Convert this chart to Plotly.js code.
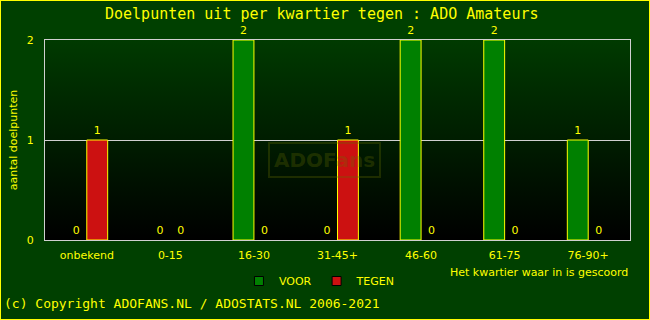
<!DOCTYPE html>
<html><head><meta charset="utf-8">
<script src="https://cdn.plot.ly/plotly-3.0.1.min.js"></script>
<style>
html,body{margin:0;padding:0;background:#004000;}
#wrap{position:relative;width:650px;height:320px;background:#004000;overflow:hidden;}
#grad{position:absolute;left:45px;top:40px;width:585px;height:200px;background:linear-gradient(to bottom,#003a00,#000000);}
#chart{position:absolute;left:0;top:0;width:650px;height:320px;}
#frame{position:absolute;left:0;top:0;width:650px;height:320px;box-sizing:border-box;border:1px solid #ffff00;pointer-events:none;}
</style></head>
<body>
<div id="wrap"><div id="grad"></div><div id="chart"></div><div id="frame"></div></div>
<script>
const categories = ["onbekend","0-15","16-30","31-45+","46-60","61-75","76-90+"];
const voor = [0,0,2,0,2,2,1];
const tegen = [1,0,0,1,0,0,0];
const yTicks = [0,1,2];
const seriesNames = ["VOOR","TEGEN"];
const yellow = "#ffff00";
const mkBar = (vals, name, color) => ({
  type:"bar", x:categories, y:vals, name:name, showlegend:false,
  marker:{color:color, line:{color:yellow, width:vals.map(v => v > 0 ? 1 : 0)}},
  text:vals.map(String), textposition:"outside", cliponaxis:false,
  outsidetextfont:{color:yellow, size:11, family:"DejaVu Sans"}
});
const legendDummy = (name,color) => ({
  type:"scatter", mode:"markers", x:[null], y:[null], name:name,
  marker:{symbol:"square", size:9, color:color, line:{color:"#000", width:1}}
});
const data = [
  mkBar(voor, seriesNames[0], "#008000"),
  mkBar(tegen, seriesNames[1], "#cc1111"),
  legendDummy(seriesNames[0], "#008000"),
  legendDummy(seriesNames[1], "#cc1111")
];
const layout = {
  width:650, height:320,
  margin:{l:45, r:20, t:40, b:80},
  paper_bgcolor:"rgba(0,0,0,0)", plot_bgcolor:"rgba(0,0,0,0)",
  font:{family:"DejaVu Sans", size:11, color:yellow},
  title:{text:"Doelpunten uit per kwartier tegen : ADO Amateurs", font:{family:"DejaVu Sans Mono", size:15, color:yellow},
    x:0.495, xanchor:"center", y:1-14/320, yanchor:"middle", yref:"container"},
  barmode:"group", bargap:0.5, bargroupgap:0,
  xaxis:{type:"category", showgrid:false, showline:true, mirror:true, linecolor:"#d0d0d0", linewidth:1,
    ticks:"outside", ticklen:5, tickcolor:"rgba(0,0,0,0)", tickfont:{size:11, color:yellow}, fixedrange:true},
  yaxis:{range:[0,2], tickvals:yTicks, showgrid:true, gridcolor:"#d0d0d0", gridwidth:1,
    showline:true, mirror:true, linecolor:"#d0d0d0", zeroline:false,
    ticks:"outside", ticklen:8, tickcolor:"rgba(0,0,0,0)", tickfont:{size:11, color:yellow},
    title:{text:"aantal doelpunten", font:{size:11, color:yellow}, standoff:6}},
  legend:{orientation:"h", x:0.47, xanchor:"center", y:-0.205, yanchor:"middle",
    font:{size:11, color:yellow}, bgcolor:"rgba(0,0,0,0)", itemwidth:30},
  annotations:[
    {text:"ADOFans", xref:"paper", yref:"paper", x:(324-45)/585, y:(240-160)/200, showarrow:false,
      font:{family:"DejaVu Sans", size:20, color:"rgba(100,110,0,0.3)", weight:"bold"},
      bordercolor:"rgba(100,110,0,0.3)", borderwidth:2, borderpad:4},
    {text:"Het kwartier waar in is gescoord", xref:"paper", yref:"paper", x:1, xanchor:"right",
      y:(240-272)/200, yanchor:"middle", showarrow:false, font:{size:11, color:yellow}},
    {text:"(c) Copyright ADOFANS.NL / ADOSTATS.NL 2006-2021", xref:"paper", yref:"paper",
      x:(2-45)/585, xanchor:"left", y:(240-303)/200, yanchor:"middle", showarrow:false,
      font:{family:"DejaVu Sans Mono", size:13, color:yellow}}
  ]
};
Plotly.newPlot("chart", data, layout, {displayModeBar:false, staticPlot:true});
</script>
</body></html>
